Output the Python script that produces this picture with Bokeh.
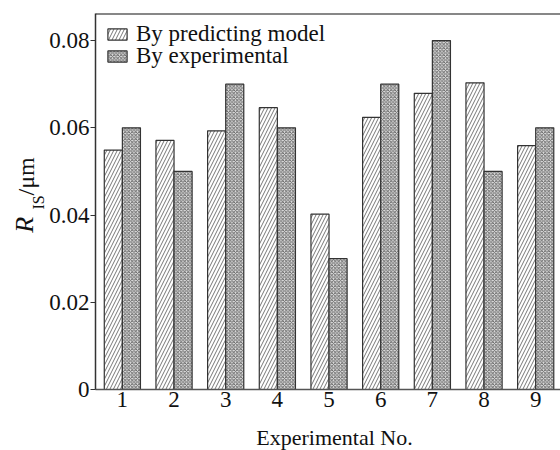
import math
from bokeh.plotting import figure
from bokeh.layouts import column, row
from bokeh.models import (ColumnDataSource, Range1d, FixedTicker, Legend,
                          LegendItem, Span, PrintfTickFormatter)
from bokeh.core.properties import value
from bokeh.transform import dodge
from bokeh.embed import file_html
from bokeh.resources import INLINE

# ---- data ----
experiment_no = [1, 2, 3, 4, 5, 6, 7, 8, 9]
predicted = [0.0549, 0.0571, 0.0593, 0.0646, 0.0402, 0.0624, 0.0679, 0.0703, 0.0559]
experimental = [0.060, 0.050, 0.070, 0.060, 0.030, 0.070, 0.080, 0.050, 0.060]
y_ticks = [0, 0.02, 0.04, 0.06, 0.08]
y_tick_labels = ["0", "0.02", "0.04", "0.06", "0.08"]
series_names = ["By predicting model", "By experimental"]
x_title = "Experimental No."
y_title_parts = ["R", "IS", "/μm"]

FONT = "Liberation Serif"
TXT = "#111111"
Y_END = 0.0862
YLAB_W = 46


def no_borders(fig):
    fig.min_border_left = 0
    fig.min_border_right = 0
    fig.min_border_top = 0
    fig.min_border_bottom = 0
    fig.outline_line_color = None
    fig.grid.visible = False


src = ColumnDataSource(dict(x=experiment_no, pred=predicted, exp=experimental))

# ---------------- main plot ----------------
p = figure(width=560 - YLAB_W, height=420, output_backend="svg",
           toolbar_location=None,
           x_range=Range1d(0.48, 9.48), y_range=Range1d(0, Y_END))
p.min_border_left = 94 - YLAB_W
p.min_border_right = 0
p.min_border_top = 13
p.min_border_bottom = 31
p.outline_line_color = None
p.grid.visible = False

bw = 0.35
r_pred = p.vbar(x=dodge("x", -bw / 2), top="pred", width=bw, source=src,
                fill_color="white", line_color="#333333", line_width=1.2,
                hatch_pattern="/", hatch_color="#666666", hatch_scale=7,
                hatch_weight=0.9)
r_exp = p.vbar(x=dodge("x", bw / 2), top="exp", width=bw, source=src,
               fill_color="#e2e2e2", line_color="#333333", line_width=1.2,
               hatch_pattern="x", hatch_color="#606060", hatch_scale=3.5,
               hatch_weight=0.9)

p.add_layout(Span(location=Y_END, dimension="width", line_color="#111111",
                  line_width=2))

xa = p.xaxis[0]
xa.ticker = FixedTicker(ticks=experiment_no)
xa.major_tick_out = 0
xa.major_tick_in = 0
xa.minor_tick_out = 0
xa.minor_tick_in = 0
xa.major_label_standoff = 2
xa.major_label_text_font = FONT
xa.major_label_text_font_size = "23px"
xa.major_label_text_color = TXT
xa.axis_line_color = "#555555"
xa.axis_line_width = 1.5

ya = p.yaxis[0]
ya.ticker = FixedTicker(ticks=y_ticks)
ya.formatter = PrintfTickFormatter(format="%.2f")
ya.major_label_overrides = {t: l for t, l in zip(y_ticks, y_tick_labels)}
ya.major_tick_out = 5
ya.major_tick_in = 0
ya.minor_tick_out = 0
ya.minor_tick_in = 0
ya.major_label_standoff = 1
ya.major_label_text_font = FONT
ya.major_label_text_font_size = "23px"
ya.major_label_text_color = TXT
ya.axis_line_color = "#333333"
ya.axis_line_width = 1.5
ya.major_tick_line_color = "#333333"

leg_common = dict(margin=0, padding=0, spacing=0, glyph_width=24,
                  glyph_height=14, label_standoff=7, label_text_font=FONT,
                  label_text_font_size="23px", label_text_color=TXT,
                  border_line_color=None, background_fill_alpha=0)
leg1 = Legend(items=[LegendItem(label=series_names[0], renderers=[r_pred])],
              location=(10, 342), **leg_common)
leg2 = Legend(items=[LegendItem(label=series_names[1], renderers=[r_exp])],
              location=(10, 320), **leg_common)
p.add_layout(leg1)
p.add_layout(leg2)

# ---------------- y-axis title panel ----------------
ylab = figure(width=YLAB_W, height=420, output_backend="svg",
              toolbar_location=None,
              x_range=Range1d(0, YLAB_W), y_range=Range1d(0, 420),
              x_axis_type=None, y_axis_type=None)
no_borders(ylab)
common_rot = dict(angle=math.pi / 2, text_align="center",
                  text_baseline="middle", text_color=TXT)
ylab.text(x=[24], y=[184], text=[y_title_parts[0]], text_font=value(FONT),
          text_font_style="italic", text_font_size="26px", **common_rot)
ylab.text(x=[37.5], y=[209], text=[y_title_parts[1]], text_font=value(FONT),
          text_font_size="16px", **common_rot)
ylab.text(x=[25], y=[238], text=[y_title_parts[2]], text_font=value(FONT),
          text_font_size="24px", **common_rot)

# ---------------- x-axis title panel ----------------
xlab = figure(width=560, height=30, output_backend="svg", toolbar_location=None,
              x_range=Range1d(0, 560), y_range=Range1d(0, 30),
              x_axis_type=None, y_axis_type=None)
no_borders(xlab)
xlab.text(x=[334], y=[13], text=[x_title], text_font=value(FONT),
          text_font_size="22px", text_align="center", text_baseline="middle",
          text_color=TXT)

layout = column(row(ylab, p, spacing=0), xlab, spacing=0)

open("out.html", "w").write(file_html(layout, INLINE))
